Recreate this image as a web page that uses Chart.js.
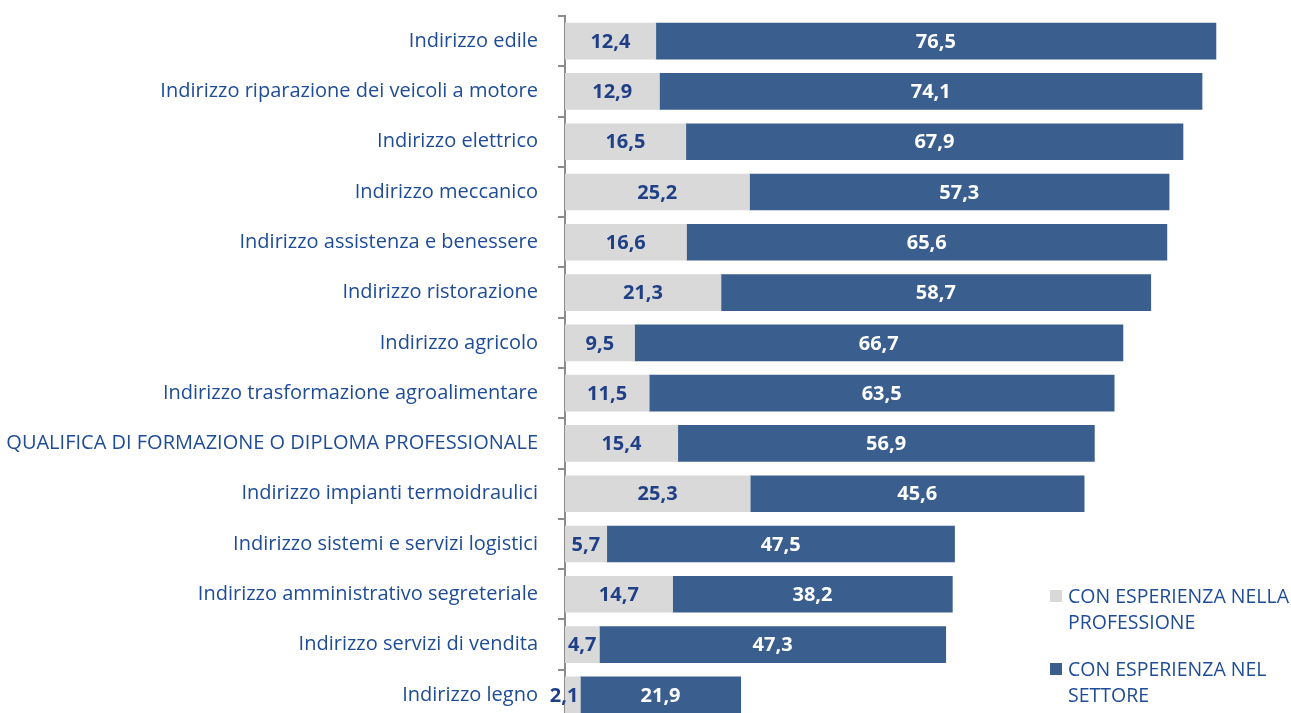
<!DOCTYPE html>
<html>
<head>
<meta charset="utf-8">
<script src="https://cdn.jsdelivr.net/npm/chart.js@4"></script>
<style>
html,body{margin:0;padding:0;background:#fff;overflow:hidden;}
#wrap{position:relative;width:1291px;height:713px;overflow:hidden;}
#c{position:absolute;left:0;top:0;}
.lg{position:absolute;font-family:"Open Sans",sans-serif;font-size:19.5px;color:#1E4C97;line-height:26px;white-space:nowrap;}
.sw{position:absolute;width:12px;height:12px;}
</style>
</head>
<body>
<div id="wrap">
<canvas id="c" width="1291" height="730" style="width:1291px;height:730px"></canvas>
<div class="sw" style="left:1050px;top:590px;background:#D9D9D9"></div>
<div class="lg" style="left:1068px;top:583px">CON ESPERIENZA NELLA<br>PROFESSIONE</div>
<div class="sw" style="left:1050px;top:663px;background:#3A5F8F"></div>
<div class="lg" style="left:1068px;top:656px">CON ESPERIENZA NEL<br>SETTORE</div>
</div>
<script>
const categories = [
  "Indirizzo edile",
  "Indirizzo riparazione dei veicoli a motore",
  "Indirizzo elettrico",
  "Indirizzo meccanico",
  "Indirizzo assistenza e benessere",
  "Indirizzo ristorazione",
  "Indirizzo agricolo",
  "Indirizzo trasformazione agroalimentare",
  "QUALIFICA DI FORMAZIONE O DIPLOMA PROFESSIONALE",
  "Indirizzo impianti termoidraulici",
  "Indirizzo sistemi e servizi logistici",
  "Indirizzo amministrativo segreteriale",
  "Indirizzo servizi di vendita",
  "Indirizzo legno"
];
const conEsperienzaProfessione = [12.4, 12.9, 16.5, 25.2, 16.6, 21.3, 9.5, 11.5, 15.4, 25.3, 5.7, 14.7, 4.7, 2.1];
const conEsperienzaSettore = [76.5, 74.1, 67.9, 57.3, 65.6, 58.7, 66.7, 63.5, 56.9, 45.6, 47.5, 38.2, 47.3, 21.9];
const seriesNames = ["CON ESPERIENZA NELLA PROFESSIONE", "CON ESPERIENZA NEL SETTORE"];

const FONT = '"Open Sans", sans-serif';
const labelPlugin = {
  id: 'barLabels',
  afterDatasetsDraw(chart) {
    const ctx = chart.ctx;
    ctx.save();
    ctx.font = 'bold 20px ' + FONT;
    ctx.textBaseline = 'middle';
    chart.data.datasets.forEach((ds, di) => {
      const meta = chart.getDatasetMeta(di);
      meta.data.forEach((el, i) => {
        const v = ds.data[i];
        const txt = v.toFixed(1).replace('.', ',');
        const x0 = Math.min(el.x, el.base), x1 = Math.max(el.x, el.base);
        const w = ctx.measureText(txt).width;
        ctx.fillStyle = di === 0 ? '#1F3F87' : '#FFFFFF';
        if (w > x1 - x0) { ctx.textAlign = 'right'; ctx.fillText(txt, x1 - 2, el.y + 1); }
        else { ctx.textAlign = 'center'; ctx.fillText(txt, (x0 + x1) / 2, el.y + 1); }
      });
    });
    ctx.restore();
  }
};

new Chart(document.getElementById('c'), {
  type: 'bar',
  data: {
    labels: categories,
    datasets: [
      { label: seriesNames[0], data: conEsperienzaProfessione, backgroundColor: '#D9D9D9', barThickness: 36 },
      { label: seriesNames[1], data: conEsperienzaSettore, backgroundColor: '#3A5F8F', barThickness: 36 }
    ]
  },
  options: {
    indexAxis: 'y',
    responsive: false,
    animation: false,
    layout: { padding: { left: 0, right: 67, top: 16, bottom: 10 } },
    plugins: { legend: { display: false }, tooltip: { enabled: false } },
    scales: {
      x: { stacked: true, min: 0, max: 90, display: false },
      y: {
        stacked: true,
        afterFit(scale) { scale.width = 565; scale.paddingTop = 0; scale.paddingBottom = 0; },
        grid: { offset: true, drawOnChartArea: false, drawTicks: true, tickLength: 7, color: '#8C8C8C', lineWidth: 2 },
        border: { display: true, color: '#8C8C8C', width: 2 },
        ticks: { color: '#1E4C97', font: { family: FONT, size: 20 }, padding: 20, autoSkip: false }
      }
    }
  },
  plugins: [labelPlugin]
});
</script>
</body>
</html>
